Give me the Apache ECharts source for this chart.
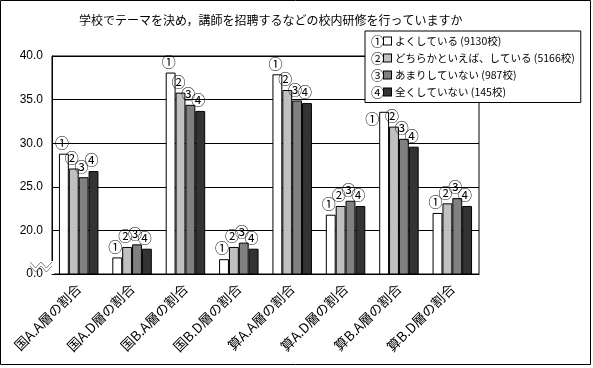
<!DOCTYPE html>
<html><head><meta charset="utf-8">
<script src="https://cdn.jsdelivr.net/npm/echarts@6/dist/echarts.min.js"></script>
<style>html,body{margin:0;padding:0;background:#fff}#c{width:593px;height:368px}</style>
</head><body><div id="c"></div>
<script>
const categories = ['国A.A層の割合','国A.D層の割合','国B.A層の割合','国B.D層の割合','算A.A層の割合','算A.D層の割合','算B.A層の割合','算B.D層の割合'];
const seriesNames = ['よくしている (9130校)','どちらかといえば、している (5166校)','あまりしていない (987校)','全くしていない (145校)'];
const marks = ['①','②','③','④'];
const s1 = [28.8, 16.9, 38.1, 16.7, 37.9, 21.8, 33.6, 22.0];
const s2 = [27.1, 18.1, 35.8, 18.1, 36.1, 22.8, 31.9, 23.1];
const s3 = [26.1, 18.4, 34.4, 18.6, 34.9, 23.4, 30.5, 23.7];
const s4 = [26.8, 17.9, 33.7, 17.9, 34.6, 22.8, 29.6, 22.8];
const yTicks = [15, 20, 25, 30, 35, 40]; // 15 is the broken-axis origin shown as 0.0
const colors = ['#ffffff','#c0c0c0','#808080','#333333'];
const values = [s1, s2, s3, s4];
const FONT = '"Noto Sans CJK JP", sans-serif';

const chart = echarts.init(document.getElementById('c'));
const rich = { n: {fontSize: 13, fontFamily: FONT, color: '#000'}, t: {fontSize: 10.5, fontFamily: FONT, color: '#000', padding: [0,0,0,4]} };
colors.forEach((c, i) => { rich['b' + i] = {width: 7, height: 7, backgroundColor: c, borderColor: '#000', borderWidth: 1}; });

// label moved beside the bar where the legend would hide it (series 0, category 6)
function buildData(d, si) {
  return d.map((v, ci) => (si === 0 && ci === 6)
    ? {value: v, label: {position: [-7, 7], align: 'center', verticalAlign: 'middle', offset: [0, 0]}}
    : v);
}

chart.setOption({
  animation: false,
  backgroundColor: '#fff',
  textStyle: {fontFamily: FONT},
  title: {text: '学校でテーマを決め，講師を招聘するなどの校内研修を行っていますか', left: 74, top: 9,
    textStyle: {fontSize: 12, fontWeight: 'normal', color: '#000', fontFamily: FONT}},
  legend: {
    orient: 'vertical', left: 365, top: 31, icon: 'none', itemWidth: 0, itemHeight: 14, itemGap: 3.5,
    padding: [3, 6, 4, 1], backgroundColor: '#fff', borderColor: '#000', borderWidth: 1, borderRadius: 0,
    data: seriesNames,
    formatter: name => { const i = seriesNames.indexOf(name); return '{n|' + marks[i] + '}{b' + i + '|}{t|' + name + '}'; },
    textStyle: {rich: rich}
  },
  grid: {left: 52, top: 56, right: 114, bottom: 94, show: true, borderColor: '#000', borderWidth: 1},
  xAxis: {
    type: 'category', data: categories,
    axisLine: {lineStyle: {color: '#000'}},
    axisTick: {inside: true, length: 4, lineStyle: {color: '#000'}},
    axisLabel: {rotate: 45, fontSize: 13.5, color: '#000', margin: 12, fontFamily: FONT, interval: 0}
  },
  yAxis: {
    type: 'value', min: 15, max: 40, interval: 5,
    axisLine: {show: true, lineStyle: {color: '#000'}},
    axisTick: {show: false},
    splitLine: {lineStyle: {color: '#000'}},
    axisLabel: {fontSize: 12, color: '#000', margin: 9, fontFamily: 'Liberation Sans, sans-serif',
      formatter: v => (v === yTicks[0] ? '0.0' : v.toFixed(1))}
  },
  series: values.map((d, i) => ({
    type: 'bar', name: seriesNames[i], data: buildData(d, i), barGap: '0%', barCategoryGap: '26%',
    itemStyle: {color: colors[i], borderColor: '#000', borderWidth: 1},
    label: {show: true, position: 'top', distance: 4, offset: [-2, 0], formatter: () => marks[i],
      fontSize: 14, color: '#000', fontFamily: FONT}
  })),
  graphic: [
    {type: 'rect', shape: {x: 0.5, y: 0.5, width: 590, height: 364}, style: {fill: 'none', stroke: '#000', lineWidth: 1}, silent: true, z: 100},
    {type: 'rect', shape: {x: 49, y: 261, width: 5, height: 13}, style: {fill: '#fff'}, z: 100},
    {type: 'polyline', shape: {points: [[30,262],[35.5,268],[41,262],[46.5,268],[52,262]]}, style: {stroke: '#808080', fill: 'none', lineWidth: 1}, z: 101},
    {type: 'polyline', shape: {points: [[30,266],[35.5,272],[41,266],[46.5,272],[52,266]]}, style: {stroke: '#808080', fill: 'none', lineWidth: 1}, z: 101}
  ]
});
</script></body></html>
